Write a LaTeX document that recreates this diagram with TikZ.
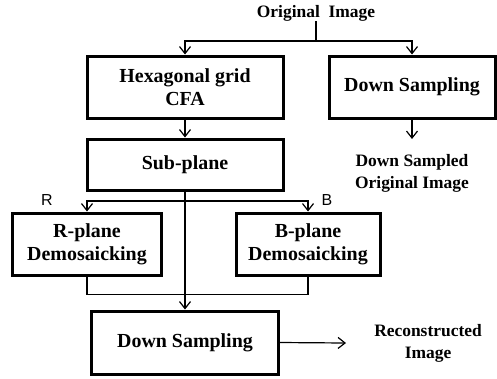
\documentclass[tikz,border=0pt]{standalone}
\usepackage{fontspec}
\setmainfont{Liberation Serif}
\newfontfamily\labsans{Liberation Sans}
\usetikzlibrary{arrows.meta}
\tikzset{
  blk/.style={draw, line width=3bp, align=center, inner sep=0pt,
    font=\fontsize{20}{23}\selectfont\bfseries},
  lbl/.style={align=center, inner sep=0pt, font=\fontsize{17.5}{22}\selectfont\bfseries},
  conn/.style={line width=1.2bp},
  arr/.style={conn, -{Straight Barb[length=7bp,width=11bp,line width=1.2bp]}},
  chan/.style={inner sep=0pt, font=\fontsize{16}{18}\selectfont\labsans}
}
\begin{document}
\begin{tikzpicture}[x=1bp,y=-1bp]
\useasboundingbox (0,0) rectangle (497,378);
\node[lbl] (orig) at (316,13) {Original\ \ Image};
\node[blk, minimum width=196bp, minimum height=62bp] (hex) at (185,87) {Hexagonal grid\\CFA};
\node[blk, minimum width=166bp, minimum height=62bp] (ds1) at (412,87) {Down Sampling};
\node[blk, minimum width=196bp, minimum height=51bp] (sub) at (185,164.5) {Sub-plane};
\node[blk, minimum width=148bp, minimum height=62bp] (rb) at (87,244) {R-plane\\Demosaicking};
\node[blk, minimum width=144bp, minimum height=62bp] (bb) at (308,244) {B-plane\\Demosaicking};
\node[blk, minimum width=187bp, minimum height=63bp] (ds2) at (185,342.5) {Down Sampling};
\node[lbl] (dso) at (412,173) {Down Sampled\\Original Image};
\node[lbl] (rec) at (428,343) {Reconstructed\\Image};
\node[chan] (rl) at (47,200) {R};
\node[chan] (bl) at (327,200) {B};
\coordinate (s1) at (316,41);
\coordinate (s2) at (185,201);
\coordinate (e1) at (412,139);
\coordinate (e2) at (346,343);
\draw[conn] (orig.south) -- (s1);
\draw[arr] (s1) -| (hex.north);
\draw[arr] (s1) -| (ds1.north);
\draw[arr] (hex.south) -- (sub.north);
\draw[arr] (ds1.south) -- (e1);
\draw[arr] (sub.south) -- (ds2.north);
\draw[arr] (s2) -| (rb.north);
\draw[arr] (s2) -| (bb.north);
\draw[conn] (rb.south) -- ++(0,18) -| (bb.south);
\draw[arr] (ds2.east) -- (e2);
\end{tikzpicture}
\end{document}
